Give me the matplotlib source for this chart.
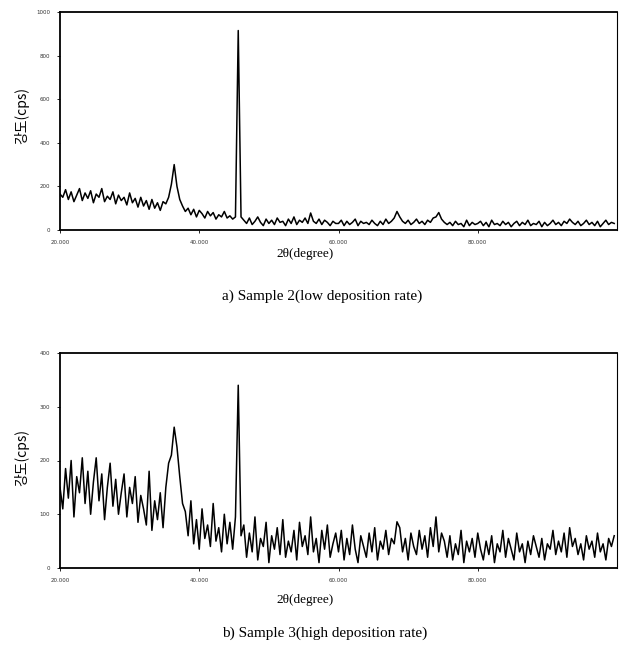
import numpy as np
import matplotlib
matplotlib.use("Agg")
import matplotlib.pyplot as plt

# 2-theta grid (degrees)
two_theta = np.arange(200) * 0.4 + 20.0

# Sample 2 (low deposition rate) intensity, cps
sample2 = [
    165,150,185,140,175,130,160,190,135,170,
    145,180,125,165,150,190,130,155,140,175,
    120,160,135,150,115,170,125,145,105,150,
    110,135,95,140,100,125,90,130,
    120,150,210,300,200,140,110,
    85,100,70,95,60,90,75,55,85,65,80,50,70,60,85,55,65,50,60,
    915,60,
    45,30,55,25,40,60,35,20,50,30,45,25,55,35,40,20,50,30,60,25,
    45,35,55,30,78,40,30,50,25,45,35,20,40,30,
    30,45,20,40,25,35,50,20,40,30,
    35,25,45,30,20,40,25,50,30,40,
    55,85,60,40,30,45,25,35,50,30,
    40,25,45,35,55,60,80,50,35,25,
    35,20,40,25,30,15,45,20,35,25,
    30,40,20,35,15,45,25,30,20,40,
    25,35,15,30,40,20,35,25,45,20,
    30,25,40,15,35,20,30,45,25,35,
    20,40,30,50,35,25,40,20,30,45,
    25,35,20,40,15,30,45,25,35,30,
]

# Sample 3 (high deposition rate) intensity, cps
sample3 = [
    150,110,185,130,200,95,170,140,205,120,
    180,100,160,205,125,175,90,150,195,115,
    165,100,140,175,95,150,120,170,85,135,
    110,80,180,70,125,90,140,75,
    150,195,210,262,225,170,120,
    105,60,125,45,90,35,110,55,80,40,120,50,75,30,100,45,85,35,95,
    340,60,
    80,20,65,30,95,15,55,40,85,10,60,35,75,25,90,20,50,30,70,15,
    85,40,60,25,95,30,55,10,70,35,80,20,45,65,
    30,70,15,55,25,80,35,10,60,40,
    20,65,30,75,15,50,35,70,25,55,
    45,86,75,30,55,15,65,40,25,70,
    35,60,20,75,40,95,30,65,50,20,
    60,15,45,25,70,10,50,30,55,20,
    65,35,15,50,25,60,10,45,30,70,
    20,55,35,15,65,30,45,10,50,25,
    60,40,20,55,15,45,35,70,25,50,
    30,65,20,75,40,55,25,45,15,60,
    35,50,20,65,30,45,15,55,40,60,
]

x_ticks = [20, 40, 60, 80]
x_ticklabels = ["20.000", "40.000", "60.000", "80.000"]
y_ticks_a = [0, 200, 400, 600, 800, 1000]
y_ticks_b = [0, 100, 200, 300, 400]

W, H = 626, 651
fig = plt.figure(figsize=(W / 100, H / 100), dpi=100)

def make_ax(top_px, bot_px):
    left, right = 60, 617
    return fig.add_axes([left / W, 1 - bot_px / H, (right - left) / W, (bot_px - top_px) / H])

ax1 = make_ax(12, 230)
ax2 = make_ax(353, 568)

for ax, y, yt, ymax in [(ax1, sample2, y_ticks_a, 1000), (ax2, sample3, y_ticks_b, 400)]:
    ax.plot(two_theta, y, color="black", lw=1.1)
    ax.set_xlim(20, 100)
    ax.set_ylim(0, ymax)
    ax.set_xticks(x_ticks)
    ax.set_xticklabels(x_ticklabels, fontsize=4, color="#333333", family="DejaVu Sans")
    ax.set_yticks(yt)
    ax.set_yticklabels([str(v) for v in yt], fontsize=4, color="#333333", family="DejaVu Sans")
    ax.tick_params(length=2, width=0.6, pad=5)
    for s in ["left", "bottom", "top"]:
        ax.spines[s].set_linewidth(1.3)
    ax.spines["right"].set_linewidth(0.8)

ylabel_font = ["Noto Sans CJK KR", "DejaVu Sans"]
fig.text(22 / W, 1 - 115 / H, "강도(cps)", rotation=90, ha="center", va="center",
         fontsize=10, family=ylabel_font)
fig.text(22 / W, 1 - 458 / H, "강도(cps)", rotation=90, ha="center", va="center",
         fontsize=10, family=ylabel_font)

serif = ["Liberation Serif", "DejaVu Serif"]
fig.text(305 / W, 1 - 254 / H, "2θ(degree)", ha="center", va="center", fontsize=9.5, family=serif)
fig.text(305 / W, 1 - 600 / H, "2θ(degree)", ha="center", va="center", fontsize=9.5, family=serif)
fig.text(322 / W, 1 - 296 / H, "a) Sample 2(low deposition rate)", ha="center", va="center",
         fontsize=11, family=serif)
fig.text(325 / W, 1 - 633 / H, "b) Sample 3(high deposition rate)", ha="center", va="center",
         fontsize=11, family=serif)

fig.savefig("out.png", dpi=100)
